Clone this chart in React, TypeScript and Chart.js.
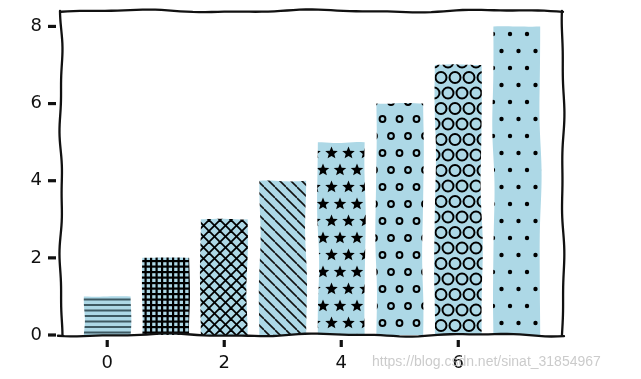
import React, { useEffect, useRef } from "react";
import { Chart, registerables } from "chart.js";

Chart.register(...registerables);

const categories = [0, 1, 2, 3, 4, 5, 6, 7];
const values = [1, 2, 3, 4, 5, 6, 7, 8];
const hatches = ["-", "+", "x", "\\", "*", "o", "O", "."];
const xTicks = [0, 2, 4, 6];
const yTicks = [0, 2, 4, 6, 8];
const watermark = "https://blog.csdn.net/sinat_31854967";

const BAR_COLOR = "#ADD8E6";
const FONT = { family: "'DejaVu Sans', sans-serif", size: 18 };

function makePattern(h: string): CanvasPattern | string {
  const c = document.createElement("canvas");
  let w = 11;
  let ht = 11;
  if (h === "*" || h === "o" || h === ".") {
    w = 17;
    ht = 34;
  } else if (h === "O") {
    w = 14;
    ht = 31;
  }
  c.width = w;
  c.height = ht;
  const g = c.getContext("2d");
  if (!g) return BAR_COLOR;
  g.fillStyle = BAR_COLOR;
  g.fillRect(0, 0, w, ht);
  g.strokeStyle = "#000";
  g.fillStyle = "#000";
  const centers = [
    [0, 0],
    [w, 0],
    [0, ht],
    [w, ht],
    [w / 2, ht / 2],
  ];
  const diagBack = () => {
    for (const k of [-w, 0, w]) {
      g.beginPath();
      g.moveTo(0, k);
      g.lineTo(w, k + w);
      g.stroke();
    }
  };
  const diagFwd = () => {
    for (const k of [0, w, 2 * w]) {
      g.beginPath();
      g.moveTo(0, k);
      g.lineTo(w, k - w);
      g.stroke();
    }
  };
  switch (h) {
    case "-": {
      g.fillStyle = "#3e5962";
      g.fillRect(0, 1.5, w, 2);
      g.fillRect(0, 7, w, 2);
      break;
    }
    case "+": {
      g.fillRect(0, 1.5, w, 2.2);
      g.fillRect(0, 7, w, 2.2);
      g.fillRect(1.5, 0, 2.2, ht);
      g.fillRect(7, 0, 2.2, ht);
      break;
    }
    case "x": {
      g.lineWidth = 1.8;
      diagBack();
      diagFwd();
      break;
    }
    case "\\": {
      g.lineWidth = 1.6;
      g.strokeStyle = "#111";
      diagBack();
      break;
    }
    case "*": {
      const R = 6.6;
      const r = 2.9;
      for (const [cx, cy] of centers) {
        g.beginPath();
        for (let i = 0; i < 10; i++) {
          const rad = i % 2 === 0 ? R : r;
          const a = -Math.PI / 2 + (i * Math.PI) / 5;
          const px = cx + rad * Math.cos(a);
          const py = cy + rad * Math.sin(a);
          if (i === 0) g.moveTo(px, py);
          else g.lineTo(px, py);
        }
        g.closePath();
        g.fill();
      }
      break;
    }
    case "o": {
      g.lineWidth = 2;
      for (const [cx, cy] of centers) {
        g.beginPath();
        g.arc(cx, cy, 2.9, 0, Math.PI * 2);
        g.stroke();
      }
      break;
    }
    case "O": {
      g.lineWidth = 2;
      for (const [cx, cy] of centers) {
        g.beginPath();
        g.arc(cx, cy, 5.5, 0, Math.PI * 2);
        g.stroke();
      }
      break;
    }
    case ".": {
      for (const [cx, cy] of centers) {
        g.beginPath();
        g.arc(cx, cy, 2.2, 0, Math.PI * 2);
        g.fill();
      }
      break;
    }
  }
  return g.createPattern(c, "repeat") || BAR_COLOR;
}

function wobblePath(
  ctx: CanvasRenderingContext2D,
  pts: number[][],
  amp: number,
  seed: number,
  move: boolean
) {
  const [x0, y0] = pts[0];
  const [x1, y1] = pts[1];
  const dx = x1 - x0;
  const dy = y1 - y0;
  const len = Math.hypot(dx, dy) || 1;
  const nx = -dy / len;
  const ny = dx / len;
  const n = Math.max(8, Math.round(len / 4));
  const f = Math.max(0.5, len / 190);
  for (let i = 0; i <= n; i++) {
    const t = i / n;
    const env = Math.sin(Math.PI * t);
    const o =
      env *
      (amp * Math.sin(2 * Math.PI * f * t + seed) +
        amp * 0.3 * Math.sin(2 * Math.PI * f * 1.9 * t + seed * 1.7));
    const px = x0 + dx * t + nx * o;
    const py = y0 + dy * t + ny * o;
    if (i === 0 && move) ctx.moveTo(px, py);
    else ctx.lineTo(px, py);
  }
}

const xkcdBars = {
  id: "xkcdBars",
  beforeDatasetDraw(chart: any, args: any) {
    const { ctx } = chart;
    const meta = args.meta;
    ctx.save();
    meta.data.forEach((el: any, i: number) => {
      const { x, y, base, width } = el.getProps(["x", "y", "base", "width"], true);
      const l = x - width / 2;
      const r = x + width / 2;
      const s = i * 1.37 + 0.3;
      ctx.beginPath();
      wobblePath(ctx, [[l, base], [l, y]], 1.1, s, true);
      wobblePath(ctx, [[l, y], [r, y]], 0.7, s + 1.1, false);
      wobblePath(ctx, [[r, y], [r, base]], 1.1, s + 2.3, false);
      ctx.lineTo(r, base);
      ctx.lineTo(l, base);
      ctx.closePath();
      ctx.fillStyle = el.options.backgroundColor;
      ctx.fill();
    });
    ctx.restore();
    return false;
  },
};

const xkcdFrame = {
  id: "xkcdFrame",
  afterDraw(chart: any) {
    const { ctx, chartArea: a, scales } = chart;
    ctx.save();
    ctx.strokeStyle = "#111";
    ctx.lineWidth = 2.3;
    ctx.lineCap = "round";
    ctx.lineJoin = "round";
    const wob = (
      x0: number,
      y0: number,
      x1: number,
      y1: number,
      amp: number,
      f: number,
      ph: number
    ) => {
      const dx = x1 - x0;
      const dy = y1 - y0;
      const len = Math.hypot(dx, dy);
      const nx = -dy / len;
      const ny = dx / len;
      ctx.beginPath();
      const n = 80;
      for (let i = 0; i <= n; i++) {
        const t = i / n;
        const o =
          amp * Math.sin(2 * Math.PI * f * t + ph) +
          amp * 0.45 * Math.sin(2 * Math.PI * f * 2.3 * t + ph * 1.7);
        const px = x0 + dx * t + nx * o;
        const py = y0 + dy * t + ny * o;
        if (i === 0) ctx.moveTo(px, py);
        else ctx.lineTo(px, py);
      }
      ctx.stroke();
    };
    wob(a.left - 3, a.bottom, a.right + 1, a.bottom, 1.1, 3.2, 0.4);
    wob(a.left, a.bottom, a.left, a.top, 1.1, 2.4, 1.2);
    wob(a.left, a.top, a.right, a.top, 1.1, 2.8, 2.1);
    wob(a.right, a.top, a.right, a.bottom, 1.0, 2.1, 0.7);

    ctx.lineWidth = 3.2;
    ctx.lineCap = "butt";
    for (const v of yTicks) {
      const y = scales.y.getPixelForValue(v);
      ctx.beginPath();
      ctx.moveTo(a.left - 13, y);
      ctx.lineTo(a.left - 5, y);
      ctx.stroke();
    }
    for (const v of xTicks) {
      const x = scales.x.getPixelForValue(v);
      ctx.beginPath();
      ctx.moveTo(x, a.bottom + 5);
      ctx.lineTo(x, a.bottom + 12);
      ctx.stroke();
    }

    ctx.font = "14px 'Liberation Sans', Arial, sans-serif";
    ctx.fillStyle = "rgba(185,185,185,0.75)";
    ctx.textAlign = "left";
    ctx.textBaseline = "alphabetic";
    ctx.fillText(watermark, 372, 366);
    ctx.restore();
  },
};

export default function App() {
  const ref = useRef<HTMLCanvasElement | null>(null);

  useEffect(() => {
    const canvas = ref.current;
    if (!canvas) return;
    const patterns = hatches.map((h) => makePattern(h));
    const chart = new Chart(canvas, {
      type: "bar",
      data: {
        datasets: [
          {
            data: categories.map((c, i) => ({ x: c, y: values[i] })) as any,
            backgroundColor: patterns as any,
            borderWidth: 0,
            barPercentage: 0.8,
            categoryPercentage: 1,
          },
        ],
      },
      options: {
        animation: false,
        responsive: false,
        events: [],
        layout: {
          autoPadding: false,
          padding: { left: 0, right: 78, top: 11, bottom: 0 },
        },
        plugins: {
          legend: { display: false },
          title: { display: false },
          tooltip: { enabled: false },
        },
        scales: {
          x: {
            type: "linear",
            min: -0.79,
            max: 7.79,
            offset: false,
            grid: { display: false, drawTicks: false },
            border: { display: false },
            afterBuildTicks: (s: any) => {
              s.ticks = xTicks.map((v) => ({ value: v }));
            },
            afterFit: (s: any) => {
              s.height = 44;
              s.paddingLeft = 0;
              s.paddingRight = 0;
              s.paddingTop = 0;
              s.paddingBottom = 0;
            },
            ticks: {
              padding: 18,
              font: FONT,
              color: "#111",
              maxRotation: 0,
              autoSkip: false,
            },
          },
          y: {
            type: "linear",
            min: 0,
            max: 8.4,
            grid: { display: false, drawTicks: false },
            border: { display: false },
            afterBuildTicks: (s: any) => {
              s.ticks = yTicks.map((v) => ({ value: v }));
            },
            afterFit: (s: any) => {
              s.width = 61;
              s.paddingLeft = 0;
              s.paddingRight = 0;
              s.paddingTop = 0;
              s.paddingBottom = 0;
            },
            ticks: {
              padding: 19,
              font: FONT,
              color: "#111",
              autoSkip: false,
            },
          },
        },
      },
      plugins: [xkcdBars, xkcdFrame],
    } as any);
    return () => chart.destroy();
  }, []);

  return (
    <div
      style={{
        position: "fixed",
        left: 0,
        top: 0,
        width: 641,
        height: 379,
        background: "#fff",
      }}
    >
      <canvas ref={ref} width={641} height={379} style={{ display: "block" }} />
    </div>
  );
}
